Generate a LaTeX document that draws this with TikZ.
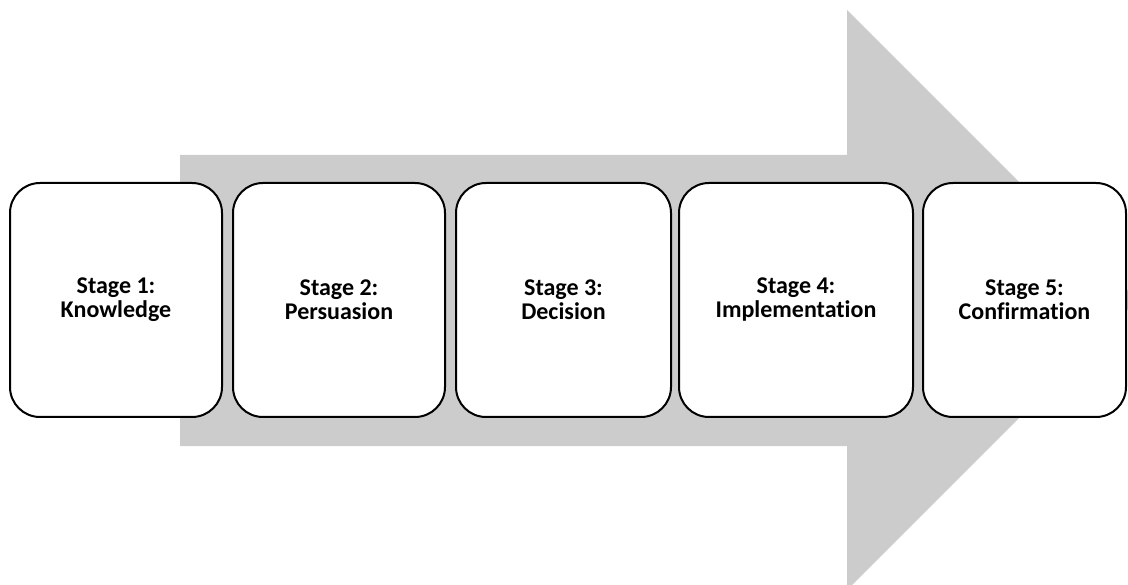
\documentclass[tikz,border=0pt]{standalone}
\usepackage{fontspec}
\setmainfont[Ligatures={NoCommon}]{Carlito}
\definecolor{arrowgrey}{HTML}{CCCCCC}
\begin{document}
\begin{tikzpicture}[x=1pt,y=-1pt,
  stagebox/.style={draw=black, line width=2pt, fill=white, rounded corners=30pt,
    minimum height=234pt, align=center, inner sep=0pt,
    font=\fontsize{24}{24}\selectfont\bfseries},
  bigarrow/.style={fill=arrowgrey, draw=none}]
\useasboundingbox (0,0) rectangle (1128,585);
\clip (0,0) rectangle (1128,585);
\fill[bigarrow] (180,155) -- (847,155) -- (847,10) -- (1137,300) -- (847,590) -- (847,446) -- (180,446) -- cycle;
\node[stagebox, minimum width=212pt] (s1) at (116,300) {Stage 1:\\Knowledge};
\node[stagebox, minimum width=212pt] (s2) at (339,300) {Stage 2:\\Persuasion};
\node[stagebox, minimum width=215pt] (s3) at (563.5,300) {Stage 3:\\Decision};
\node[stagebox, minimum width=234pt] (s4) at (796,300) {Stage 4:\\Implementation};
\node[stagebox, minimum width=203pt] (s5) at (1024.5,300) {Stage 5:\\Confirmation};
\end{tikzpicture}
\end{document}
